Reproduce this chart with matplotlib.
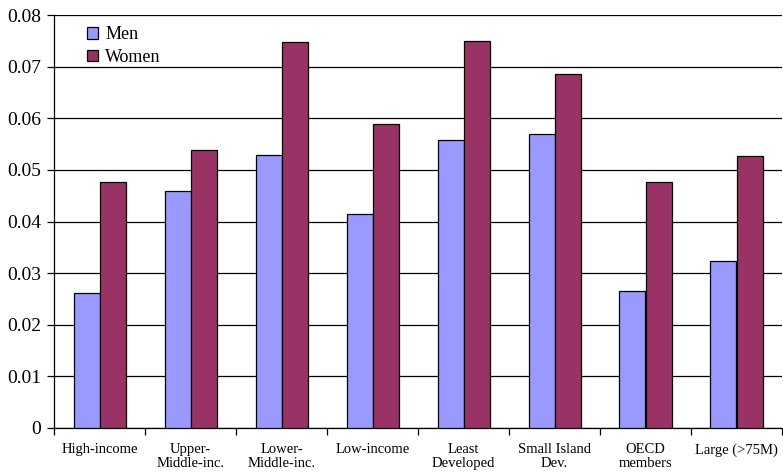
import matplotlib.pyplot as plt
import numpy as np

categories = ['High-income', 'Upper-\nMiddle-inc.', 'Lower-\nMiddle-inc.', 'Low-income',
              'Least\nDeveloped', 'Small Island\nDev.', 'OECD\nmembers', 'Large (>75M)']
men = [0.0261, 0.0460, 0.0528, 0.0415, 0.0557, 0.0570, 0.0265, 0.0323]
women = [0.0477, 0.0539, 0.0747, 0.0589, 0.0749, 0.0685, 0.0477, 0.0526]

plt.rcParams['font.family'] = ['Liberation Serif', 'DejaVu Serif']

fig = plt.figure(figsize=(7.83, 4.72), dpi=100)
ax = fig.add_axes([54 / 783, 44 / 472, 728 / 783, 413 / 472])

x = np.arange(len(categories))
w = 1 / 3.5
ax.bar(x - w / 2, men, w, color='#9999FF', edgecolor='black', lw=0.9, label='Men', zorder=3)
ax.bar(x + w / 2, women, w, color='#993366', edgecolor='black', lw=0.9, label='Women', zorder=3)

ax.set_xlim(-0.5, len(categories) - 0.5)
ax.set_ylim(0, 0.08)
yt = np.arange(0, 0.081, 0.01)
ax.set_yticks(yt)
ax.set_yticklabels(['0'] + ['%.2f' % v for v in yt[1:]])
ax.yaxis.grid(True, color='black', lw=0.9, zorder=0)
ax.tick_params(axis='y', labelsize=14, length=5, width=0.9, pad=4, direction='out')

ax.set_xticks(x)
ax.set_xticklabels(categories, fontsize=10.5, linespacing=1.12, va='top')
ax.set_xticks(np.arange(len(categories) + 1) - 0.5, minor=True)
ax.tick_params(axis='x', which='major', length=0, pad=11)
ax.tick_params(axis='x', which='minor', length=5, width=0.9, direction='out')

for s in ['top', 'right']:
    ax.spines[s].set_visible(False)
for s in ['left', 'bottom']:
    ax.spines[s].set_linewidth(0.9)

ax.legend(loc='upper left', bbox_to_anchor=(0.023, 1.012), frameon=False, fontsize=13,
          handlelength=0.6, handleheight=0.6, handletextpad=0.4, labelspacing=0.3)

fig.savefig('out.png', dpi=100)
